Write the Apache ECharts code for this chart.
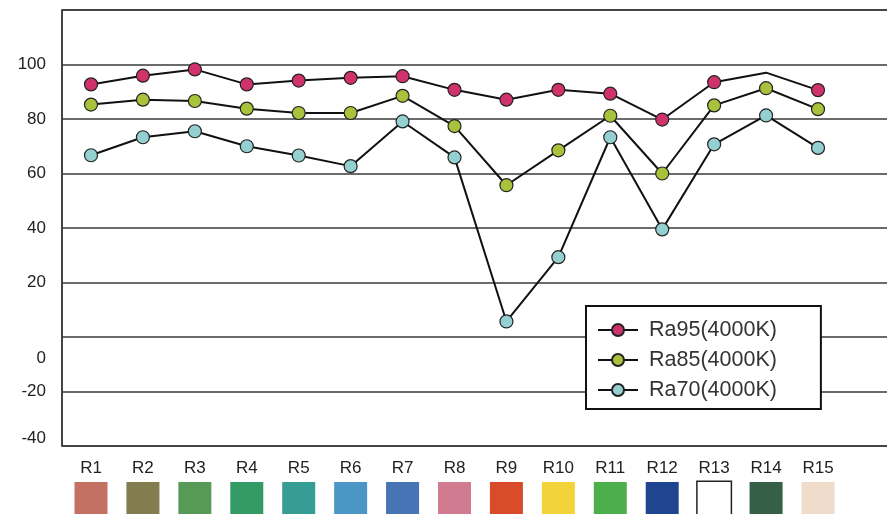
<!DOCTYPE html>
<html>
<head>
<meta charset="utf-8">
<script src="https://cdn.jsdelivr.net/npm/echarts@6/dist/echarts.min.js"></script>
<style>html,body{margin:0;padding:0;background:#fff;}#c{width:887px;height:514px;}</style>
</head>
<body>
<div id="c"></div>
<script>
const categories = ['R1','R2','R3','R4','R5','R6','R7','R8','R9','R10','R11','R12','R13','R14','R15'];
const swatchColors = ['#c47163','#827d4f','#579a57','#349a65','#359d94','#4a97c6','#4674b5','#d17b90','#d84c2c','#f2d43a','#4caf4c','#1f4591','#ffffff','#355f46','#f0dccb'];
const ra95 = [92.7, 95.9, 98.2, 92.7, 94.1, 95.1, 95.7, 90.7, 87.1, 90.7, 89.3, 79.8, 93.5, 97.0, 90.6];
const ra85 = [85.3, 87.1, 86.6, 83.8, 82.2, 82.2, 88.5, 77.4, 55.7, 68.5, 81.2, 60.0, 85.0, 91.3, 83.6];
const ra70 = [66.7, 73.3, 75.5, 70.0, 66.6, 62.7, 79.1, 65.9, 5.7, 29.3, 73.3, 39.5, 70.7, 81.3, 69.4];
const seriesNames = ['Ra95(4000K)', 'Ra85(4000K)', 'Ra70(4000K)'];
const seriesColors = ['#d0336c', '#a9c23b', '#94cfd1'];
const ra95NoMarker = [13];
const yTicks = [-40, -20, 0, 20, 40, 60, 80, 100, 120];

const chart = echarts.init(document.getElementById('c'), null, {renderer: 'canvas'});

const rich = { n: { fontSize: 17, color: '#222', lineHeight: 27, align: 'center', fontFamily: 'Liberation Sans, Arial, sans-serif' } };
swatchColors.forEach((c, i) => {
  rich['s' + i] = { width: 33, height: 32, backgroundColor: c, align: 'center',
    borderColor: c === '#ffffff' ? '#222' : c, borderWidth: c === '#ffffff' ? 1.5 : 0 };
});

function mkData(arr, hidden) {
  return arr.map((v, i) => hidden && hidden.indexOf(i) >= 0 ? { value: v, symbol: 'none' } : v);
}
const datas = [mkData(ra95, ra95NoMarker), mkData(ra85), mkData(ra70)];

const option = {
  animation: false,
  backgroundColor: '#fff',
  grid: [
    { left: 62, right: -3, top: 10, bottom: 68, outerBoundsMode: 'none', containLabel: false, show: true, borderColor: '#3a3a3a', borderWidth: 1.5, backgroundColor: 'transparent' },
    { left: 91, right: 69, top: 10, bottom: 68, outerBoundsMode: 'none', containLabel: false }
  ],
  xAxis: [
    { gridIndex: 0, type: 'value', min: 0, max: 1, show: false },
    { gridIndex: 1, type: 'category', data: categories, boundaryGap: false,
      axisLine: { show: false }, axisTick: { show: false }, splitLine: { show: false },
      axisLabel: { interval: 0, margin: 9, rich: rich,
        formatter: (v, i) => '{n|' + v + '}\n{s' + i + '|}' } }
  ],
  yAxis: [
    { gridIndex: 0, type: 'value', min: -40, max: 120, interval: 20,
      axisLine: { show: true, lineStyle: { color: '#3a3a3a', width: 1.5 } },
      axisTick: { show: false },
      splitLine: { show: true, lineStyle: { color: '#3a3a3a', width: 1.5 } },
      axisLabel: { margin: 16, fontSize: 17, color: '#222', fontFamily: 'Liberation Sans, Arial, sans-serif',
        formatter: v => v === 120 ? '' : (v === 0 ? '{d|0}' : (v === -40 ? '{u|-40}' : String(v))),
        rich: { d: { fontSize: 17, color: '#222', padding: [42, 0, 0, 0] }, u: { fontSize: 17, color: '#222', padding: [0, 0, 16, 0] } } } },
    { gridIndex: 1, type: 'value', min: -40, max: 120, interval: 20, show: false, splitLine: { show: false } }
  ],
  legend: {
    orient: 'vertical', left: 586, top: 306,
    data: seriesNames,
    backgroundColor: '#fff', borderColor: '#111', borderWidth: 2, borderRadius: 0,
    padding: [13, 44, 8, 11],
    itemWidth: 40, itemHeight: 15, itemGap: 8,
    textStyle: { fontSize: 21.5, color: '#333', padding: [0, 0, 0, 6], fontFamily: 'Liberation Sans, Arial, sans-serif' },
    z: 10
  },
  series: seriesNames.map((name, k) => ({
    name: name, type: 'line', xAxisIndex: 1, yAxisIndex: 1,
    data: datas[k], symbol: 'circle', symbolSize: 13,
    itemStyle: { color: seriesColors[k], borderColor: '#222', borderWidth: 1.2 },
    lineStyle: { color: '#111', width: 2 },
    emphasis: { disabled: true }
  }))
};
chart.setOption(option);
</script>
</body>
</html>
